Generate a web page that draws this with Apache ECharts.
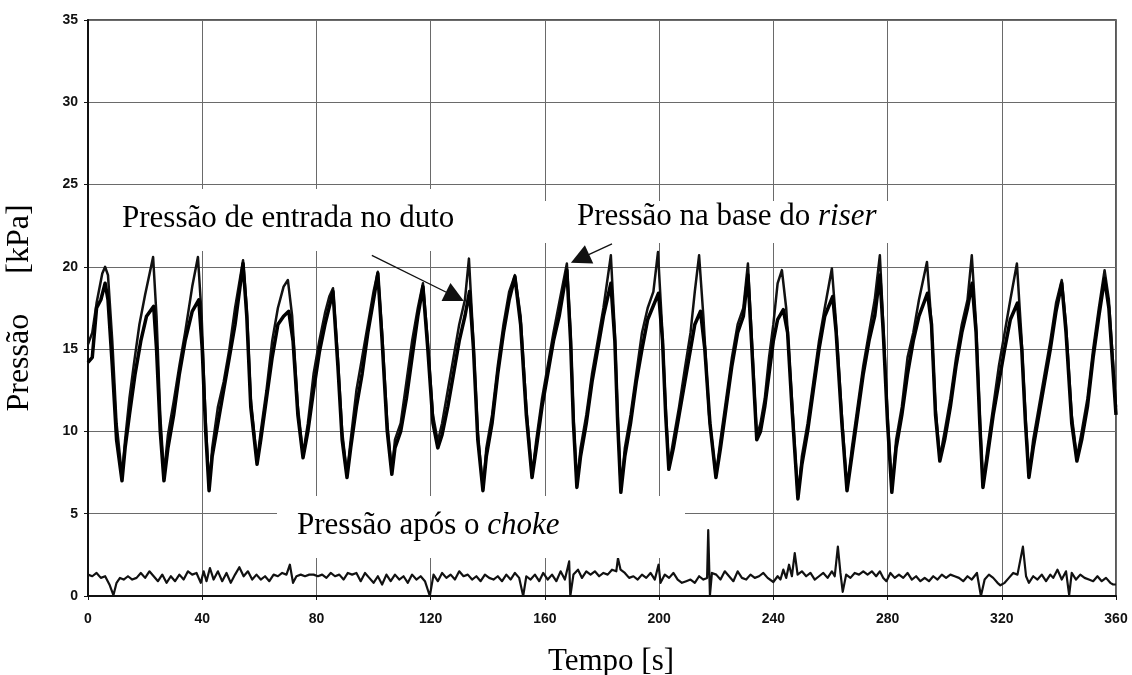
<!DOCTYPE html>
<html>
<head>
<meta charset="utf-8">
<script src="https://cdn.jsdelivr.net/npm/echarts@6/dist/echarts.min.js"></script>
<style>
  html, body { margin: 0; padding: 0; background: #fff; }
  #chart { width: 1132px; height: 675px; }
</style>
</head>
<body>
<div id="chart"></div>
<script>
// pressao de entrada no duto (traco de picos mais altos)
const tA = [0, 1.5, 3, 5, 6, 7, 8.5, 10, 11.9, 13, 14.5, 16, 18, 20, 22.8, 24, 25.3, 26.6, 28, 30, 32, 34, 36.5, 38.5, 39.8, 41, 42.4, 43.5, 45.5, 47.5, 49.5, 51.5, 54.3, 55.6, 57, 59.2, 60.5, 62.5, 64.5, 66.5, 68.5, 70, 71.5, 73.5, 75.3, 77, 79, 81, 83, 84.5, 85.8, 87.5, 89, 90.7, 92, 94, 96, 98, 100, 101.5, 103, 104.8, 106.4, 107.5, 109.5, 111.5, 113.5, 115.5, 117.3, 119, 120.8, 122.5, 124, 126, 128, 130, 132, 133.4, 134.8, 136.5, 138.3, 139.5, 141.5, 143.5, 145.5, 147.5, 149.5, 151.5, 153.5, 155.5, 157, 159, 161, 163, 165, 167.7, 169, 170, 171.2, 172.5, 174.5, 176.5, 178.5, 180.5, 183.1, 184.5, 185.5, 186.6, 188, 190, 192, 194, 196, 198, 199.6, 201, 202.3, 203.4, 205, 207, 209, 211, 212.5, 214, 215.5, 217.5, 219.9, 221.5, 223.5, 225.5, 227.5, 229.5, 231.1, 232.5, 234.2, 235.5, 237, 238.5, 240, 241.5, 243, 244.5, 246.5, 248.6, 250, 252, 254, 256, 258, 260.5, 262, 264, 265.8, 267.5, 269.5, 271.5, 273.5, 275.5, 277.3, 278.5, 280, 281.5, 283, 285, 287, 289, 291, 293.8, 295.2, 296.8, 298.3, 300, 302, 304, 306, 308, 309.5, 311, 312.3, 313.4, 315, 317, 319, 321, 323, 325.3, 326.8, 328.3, 329.5, 331, 333, 335, 337, 339, 341, 342.5, 344.5, 346.3, 348, 350, 352, 354, 356, 357.5, 360]
const pA = [15.3, 16.0, 17.8, 19.6, 20.0, 19.5, 15.5, 10.5, 7.3, 9.5, 12.0, 14.0, 16.5, 18.3, 20.6, 17.0, 11.0, 7.4, 9.8, 11.8, 14.0, 16.0, 18.8, 20.6, 17.0, 11.5, 6.5, 9.0, 11.5, 13.0, 15.0, 17.5, 20.4, 17.5, 12.0, 8.2, 10.0, 12.5, 15.5, 17.5, 18.8, 19.2, 17.0, 11.5, 8.6, 10.5, 13.5, 15.5, 17.2, 18.2, 18.7, 14.5, 10.0, 7.4, 9.5, 12.5, 14.5, 16.5, 18.5, 19.7, 16.0, 10.5, 7.6, 9.5, 10.5, 13.0, 15.5, 17.5, 19.0, 15.5, 11.0, 9.4, 10.5, 12.5, 14.5, 16.5, 18.0, 20.5, 16.0, 10.0, 6.5, 9.0, 11.0, 14.0, 16.5, 18.5, 19.5, 17.0, 11.5, 7.3, 9.5, 12.0, 14.0, 16.0, 17.8, 20.2, 16.0, 11.0, 6.7, 9.0, 11.0, 13.5, 15.5, 17.5, 20.7, 16.0, 11.0, 6.4, 9.0, 11.0, 13.5, 16.0, 17.5, 18.5, 20.9, 16.5, 11.5, 7.8, 9.5, 11.5, 13.8, 16.0, 18.5, 20.7, 17.0, 11.0, 7.3, 9.5, 12.0, 14.5, 16.5, 17.5, 20.2, 15.5, 9.7, 10.5, 12.0, 14.5, 16.5, 19.0, 19.8, 17.5, 12.0, 6.0, 8.5, 10.5, 13.0, 15.5, 17.5, 19.9, 16.5, 11.0, 6.5, 9.0, 11.5, 14.0, 16.0, 18.0, 20.7, 16.5, 11.0, 6.4, 9.5, 11.5, 14.5, 16.0, 18.0, 20.3, 17.0, 11.5, 8.4, 10.0, 12.0, 14.5, 16.5, 18.0, 20.7, 16.5, 11.0, 6.7, 9.0, 11.5, 14.0, 16.0, 18.0, 20.2, 16.0, 11.0, 7.3, 9.5, 11.5, 13.5, 15.5, 17.8, 19.2, 16.5, 11.0, 8.4, 10.0, 12.0, 15.0, 17.5, 19.8, 18.0, 11.5]

// pressao na base do riser (traco grosso)
const tB = [0, 1.5, 3, 4.5, 6, 7, 8.5, 10, 11.9, 13, 14.5, 16.5, 18.5, 20.5, 23, 24, 25.3, 26.6, 28, 30, 32, 34, 36.5, 38.8, 40, 41.2, 42.4, 43.5, 45.5, 47.5, 49.5, 51.5, 54.3, 55.6, 57, 59.2, 60.5, 62.5, 64.5, 66.5, 68.5, 70.3, 71.8, 73.5, 75.3, 77, 79, 81, 83, 85.8, 87.5, 89, 90.7, 92, 94, 96, 98, 100, 101.5, 103, 104.8, 106.4, 107.5, 109.5, 111.5, 113.5, 115.5, 117.3, 119, 120.8, 122.5, 124, 126, 128, 130, 132, 133.6, 135, 136.5, 138.3, 139.5, 141.5, 143.5, 145.5, 147.5, 149.5, 151.5, 153.5, 155.5, 157, 159, 161, 163, 165, 167.7, 169, 170, 171.2, 172.5, 174.5, 176.5, 178.5, 180.5, 183.1, 184.5, 185.5, 186.6, 188, 190, 192, 194, 196, 199.8, 201.2, 202.3, 203.4, 205, 207, 209, 211, 212.5, 214.5, 216, 217.8, 219.9, 221.5, 223.5, 225.5, 227.5, 229.5, 231.1, 232.5, 234.2, 235.5, 237, 238.5, 240, 241.5, 243.5, 245, 246.5, 248.6, 250, 252, 254, 256, 258, 260.8, 262, 264, 265.8, 267.5, 269.5, 271.5, 273.5, 275.5, 277.3, 278.5, 280, 281.5, 283, 285, 287, 289, 291, 294, 295.4, 296.8, 298.3, 300, 302, 304, 306, 308, 309.6, 311, 312.3, 313.4, 315, 317, 319, 321, 323, 325.5, 327, 328.3, 329.5, 331, 333, 335, 337, 339, 341, 342.5, 344.5, 346.3, 348, 350, 352, 354, 356, 357.5, 360]
const pB = [14.2, 14.5, 17.5, 18.0, 19.0, 18.0, 14.0, 9.5, 7.0, 9.0, 11.0, 13.5, 15.5, 17.0, 17.6, 15.0, 10.0, 7.0, 9.0, 11.0, 13.5, 15.5, 17.3, 18.0, 15.0, 10.0, 6.4, 8.5, 10.5, 12.5, 14.5, 16.5, 20.2, 17.0, 11.5, 8.0, 9.5, 12.0, 14.5, 16.5, 17.0, 17.3, 15.5, 11.0, 8.4, 10.0, 12.5, 14.8, 16.5, 18.5, 14.0, 9.5, 7.2, 9.0, 11.5, 13.5, 16.0, 18.0, 19.6, 15.5, 10.0, 7.4, 9.0, 10.0, 12.0, 14.5, 17.0, 18.8, 15.0, 10.5, 9.0, 9.8, 11.5, 13.5, 15.5, 17.0, 18.5, 15.0, 9.5, 6.4, 8.5, 10.5, 13.5, 16.0, 18.0, 19.4, 16.5, 11.0, 7.2, 9.0, 11.5, 13.5, 15.5, 17.0, 19.8, 15.5, 10.5, 6.6, 8.5, 10.5, 13.0, 15.0, 17.0, 19.0, 15.5, 10.5, 6.3, 8.5, 10.5, 13.0, 15.0, 16.8, 18.4, 15.5, 11.0, 7.7, 9.0, 11.0, 13.0, 15.0, 16.5, 17.3, 15.0, 10.5, 7.2, 9.0, 11.5, 14.0, 16.0, 17.0, 19.5, 15.0, 9.5, 10.0, 11.5, 13.5, 15.5, 16.8, 17.4, 16.0, 11.5, 5.9, 8.0, 10.0, 12.5, 15.0, 17.0, 18.2, 16.0, 10.5, 6.4, 8.5, 11.0, 13.5, 15.5, 17.0, 19.5, 16.0, 10.5, 6.3, 9.0, 11.0, 13.5, 15.5, 17.0, 18.4, 16.5, 11.0, 8.2, 9.5, 11.5, 14.0, 16.0, 17.5, 19.0, 16.0, 10.5, 6.6, 8.5, 11.0, 13.0, 15.0, 16.8, 17.8, 15.0, 10.5, 7.2, 9.0, 11.0, 13.0, 15.0, 17.3, 19.0, 16.0, 10.5, 8.2, 9.5, 11.5, 14.5, 17.0, 19.3, 17.5, 11.0]

// pressao apos o choke
const tC = [0, 1.5, 3, 4.5, 6, 7.5, 8.9, 10, 11.2, 12.5, 14, 15.5, 17, 18.5, 20, 21.5, 23, 24.5, 26, 27.5, 29, 30.5, 32, 33.5, 35, 36.5, 38, 39.5, 40.5, 41.5, 42.7, 44, 45.5, 47, 48.5, 50, 51.5, 53, 54.5, 56, 57.5, 59, 60.5, 62, 63.5, 65, 66.5, 68, 69.5, 70.7, 71.8, 73, 74.5, 76, 77.5, 79, 80.5, 82, 83.5, 85, 86.5, 88, 89.5, 91, 92.5, 94, 95.5, 97, 98.5, 100, 101.5, 103, 104.5, 106, 107.5, 109, 110.5, 112, 113.5, 115, 116.5, 118, 119.7, 121, 122.5, 124, 125.5, 127, 128.5, 130, 131.5, 133, 134.5, 136, 137.5, 139, 140.5, 142, 143.5, 145, 146.5, 148, 149.5, 151, 152.4, 153.5, 155, 156.5, 158, 159.4, 161, 162.5, 164, 165.5, 167, 168.5, 168.9, 170, 171.6, 173, 174.5, 176, 177.5, 179, 180.5, 182, 183.5, 185, 185.6, 186.5, 188, 189.5, 191, 192.5, 194, 195.5, 197, 198.5, 199.8, 200.5, 202, 203.5, 205, 206.5, 208, 209.5, 211, 212.5, 214, 215.5, 216.8, 217.2, 217.8, 218.5, 220, 221.5, 223, 224.5, 226, 227.5, 229, 230.5, 232, 233.5, 235, 236.5, 238, 240, 241.5, 242.5, 243.5, 244.5, 245.5, 246.5, 247.5, 248.5, 250, 251.5, 253, 254.5, 256, 257.5, 259, 260.5, 261.5, 262.6, 263.5, 264.3, 265.5, 267, 268.5, 270, 271.5, 273, 274.5, 276, 277.3, 278.5, 279.6, 281, 282.5, 284, 285.5, 287, 288.5, 290, 291.5, 293, 294.5, 296, 297.5, 299, 300.5, 302, 303.5, 305, 306.5, 308, 309.5, 311.3, 312.7, 314, 315.5, 317, 318.5, 319.5, 321, 322.5, 324, 325.5, 327.4, 328.5, 329.5, 331, 332.5, 334, 335.5, 337, 338, 339.5, 341, 342.5, 343.6, 344.5, 346, 347.5, 349, 350.5, 352, 353.5, 355, 356.5, 358, 359, 360]
const pC = [1.3, 1.2, 1.4, 1.1, 1.2, 0.7, 0.05, 0.8, 1.1, 1.0, 1.2, 1.0, 1.1, 1.4, 1.1, 1.5, 1.2, 0.9, 1.3, 0.8, 1.2, 0.9, 1.3, 1.0, 1.5, 1.3, 1.4, 0.8, 1.5, 0.9, 1.7, 1.0, 1.5, 0.9, 1.4, 0.8, 1.3, 1.75, 1.2, 1.5, 1.0, 1.3, 1.0, 1.2, 0.9, 1.3, 1.2, 1.4, 1.3, 1.9, 0.8, 1.2, 1.3, 1.2, 1.3, 1.3, 1.2, 1.3, 1.1, 1.4, 1.2, 1.3, 1.0, 1.4, 1.3, 1.4, 0.9, 1.4, 1.1, 0.8, 1.2, 0.7, 1.3, 0.9, 1.3, 1.0, 1.2, 0.8, 1.3, 1.0, 1.2, 0.9, 0.0, 1.3, 0.9, 1.4, 1.1, 1.3, 1.0, 1.5, 1.2, 1.3, 1.0, 1.2, 0.9, 1.3, 1.1, 1.0, 1.2, 0.9, 1.3, 1.0, 1.4, 1.1, 0.0, 1.2, 1.0, 1.3, 0.9, 1.4, 1.0, 1.3, 0.9, 1.5, 1.0, 2.1, 0.0, 1.3, 1.6, 1.1, 1.5, 1.3, 1.5, 1.2, 1.4, 1.3, 1.6, 1.5, 2.3, 1.6, 1.4, 1.1, 1.2, 1.0, 1.3, 1.1, 1.4, 1.0, 1.9, 0.8, 1.3, 1.1, 1.4, 1.0, 0.8, 0.9, 1.0, 0.8, 1.2, 1.0, 1.1, 4.0, 0.05, 1.4, 1.3, 1.0, 1.5, 1.2, 0.9, 1.5, 1.1, 1.0, 1.3, 1.1, 1.2, 1.4, 1.1, 0.85, 1.2, 1.0, 1.6, 1.1, 1.9, 1.2, 2.6, 1.3, 1.5, 1.2, 1.4, 1.0, 1.2, 1.4, 1.1, 1.5, 1.2, 3.0, 1.4, 0.25, 1.3, 1.1, 1.4, 1.3, 1.5, 1.3, 1.5, 1.2, 1.5, 1.1, 0.9, 1.4, 1.1, 1.3, 1.1, 1.4, 1.0, 1.2, 0.9, 1.1, 0.9, 1.2, 1.0, 1.3, 1.1, 1.3, 1.2, 1.1, 0.9, 1.2, 1.0, 1.4, 0.0, 1.0, 1.3, 1.1, 0.8, 0.65, 0.8, 1.1, 1.4, 1.3, 3.0, 1.2, 0.8, 1.2, 1.0, 1.3, 0.9, 1.3, 1.1, 1.6, 1.0, 1.5, 0.05, 1.4, 1.0, 1.3, 1.1, 1.0, 0.9, 1.2, 0.9, 1.1, 0.8, 0.7, 0.7]

// setas das legendas (em coordenadas dos dados)
const arrowEntrada = [[99.4, 20.7], [128.5, 18.2]]
const arrowRiser = [[183.5, 21.4], [172.3, 20.5]]

const serif = '"Liberation Serif", "Times New Roman", serif'
const pair = (ts, ps) => ts.map((t, i) => [t, ps[i]])

const chart = echarts.init(document.getElementById('chart'))
chart.setOption({
  animation: false,
  backgroundColor: '#fff',
  grid: {
    left: 88,
    right: 16,
    top: 20,
    bottom: 79,
    outerBoundsMode: 'none',
    containLabel: false,
    show: true,
    borderColor: '#222',
    borderWidth: 1.5
  },
  xAxis: {
    type: 'value',
    min: 0,
    max: 360,
    interval: 40,
    name: 'Tempo [s]',
    nameLocation: 'middle',
    nameGap: 50,
    nameTextStyle: { fontFamily: serif, fontSize: 31, color: '#000', padding: [0, 0, 0, 18] },
    axisLine: { lineStyle: { color: '#111', width: 2 } },
    axisTick: { show: true, length: 4, lineStyle: { color: '#111' } },
    axisLabel: { margin: 16, fontFamily: 'Liberation Sans, Arial', fontWeight: 'bold', fontSize: 14, color: '#111' },
    splitLine: { show: true, lineStyle: { color: '#6a6a6a', width: 1 } }
  },
  yAxis: {
    type: 'value',
    min: 0,
    max: 35,
    interval: 5,
    name: 'Pressão     [kPa]',
    nameLocation: 'middle',
    nameGap: 52,
    nameTextStyle: { fontFamily: serif, fontSize: 32, color: '#000' },
    axisLine: { show: true, lineStyle: { color: '#111', width: 2 } },
    axisTick: { show: true, length: 4, lineStyle: { color: '#111' } },
    axisLabel: { margin: 10, fontFamily: 'Liberation Sans, Arial', fontWeight: 'bold', fontSize: 14, color: '#111' },
    splitLine: { show: true, lineStyle: { color: '#6a6a6a', width: 1 } }
  },
  series: [
    {
      name: 'Pressão de entrada no duto',
      type: 'line',
      showSymbol: false,
      data: pair(tA, pA),
      lineStyle: { color: '#111', width: 2.5, join: 'round' },
      markLine: {
        silent: true,
        symbol: ['none', 'triangle'],
        symbolSize: 20,
        label: { show: false },
        lineStyle: { color: '#111', width: 1.3, type: 'solid' },
        data: [
          [{ coord: arrowEntrada[0] }, { coord: arrowEntrada[1] }],
          [{ coord: arrowRiser[0] }, { coord: arrowRiser[1] }]
        ]
      }
    },
    {
      name: 'Pressão na base do riser',
      type: 'line',
      showSymbol: false,
      data: pair(tB, pB),
      lineStyle: { color: '#000', width: 3.5, join: 'round' }
    },
    {
      name: 'Pressão após o choke',
      type: 'line',
      showSymbol: false,
      data: pair(tC, pC),
      lineStyle: { color: '#111', width: 2.2, join: 'round' }
    }
  ],
  graphic: [
    { type: 'rect', z: 100, shape: { x: 91, y: 189, width: 394, height: 62 }, style: { fill: '#fff' } },
    { type: 'rect', z: 100, shape: { x: 540, y: 201, width: 365, height: 42 }, style: { fill: '#fff' } },
    { type: 'rect', z: 100, shape: { x: 277, y: 496, width: 408, height: 62 }, style: { fill: '#fff' } },
    {
      type: 'text', z: 101, x: 122, y: 219,
      style: { text: 'Pressão de entrada no duto', font: '31px ' + serif, fill: '#000', verticalAlign: 'middle' }
    },
    {
      type: 'text', z: 101, x: 577, y: 217,
      style: {
        text: 'Pressão na base do {i|riser}', font: '31px ' + serif, fill: '#000', verticalAlign: 'middle',
        rich: { i: { fontStyle: 'italic', fontFamily: serif, fontSize: 31, fill: '#000' } }
      }
    },
    {
      type: 'text', z: 101, x: 297, y: 526,
      style: {
        text: 'Pressão após o {i|choke}', font: '31px ' + serif, fill: '#000', verticalAlign: 'middle',
        rich: { i: { fontStyle: 'italic', fontFamily: serif, fontSize: 31, fill: '#000' } }
      }
    }
  ]
})
</script>
</body>
</html>
